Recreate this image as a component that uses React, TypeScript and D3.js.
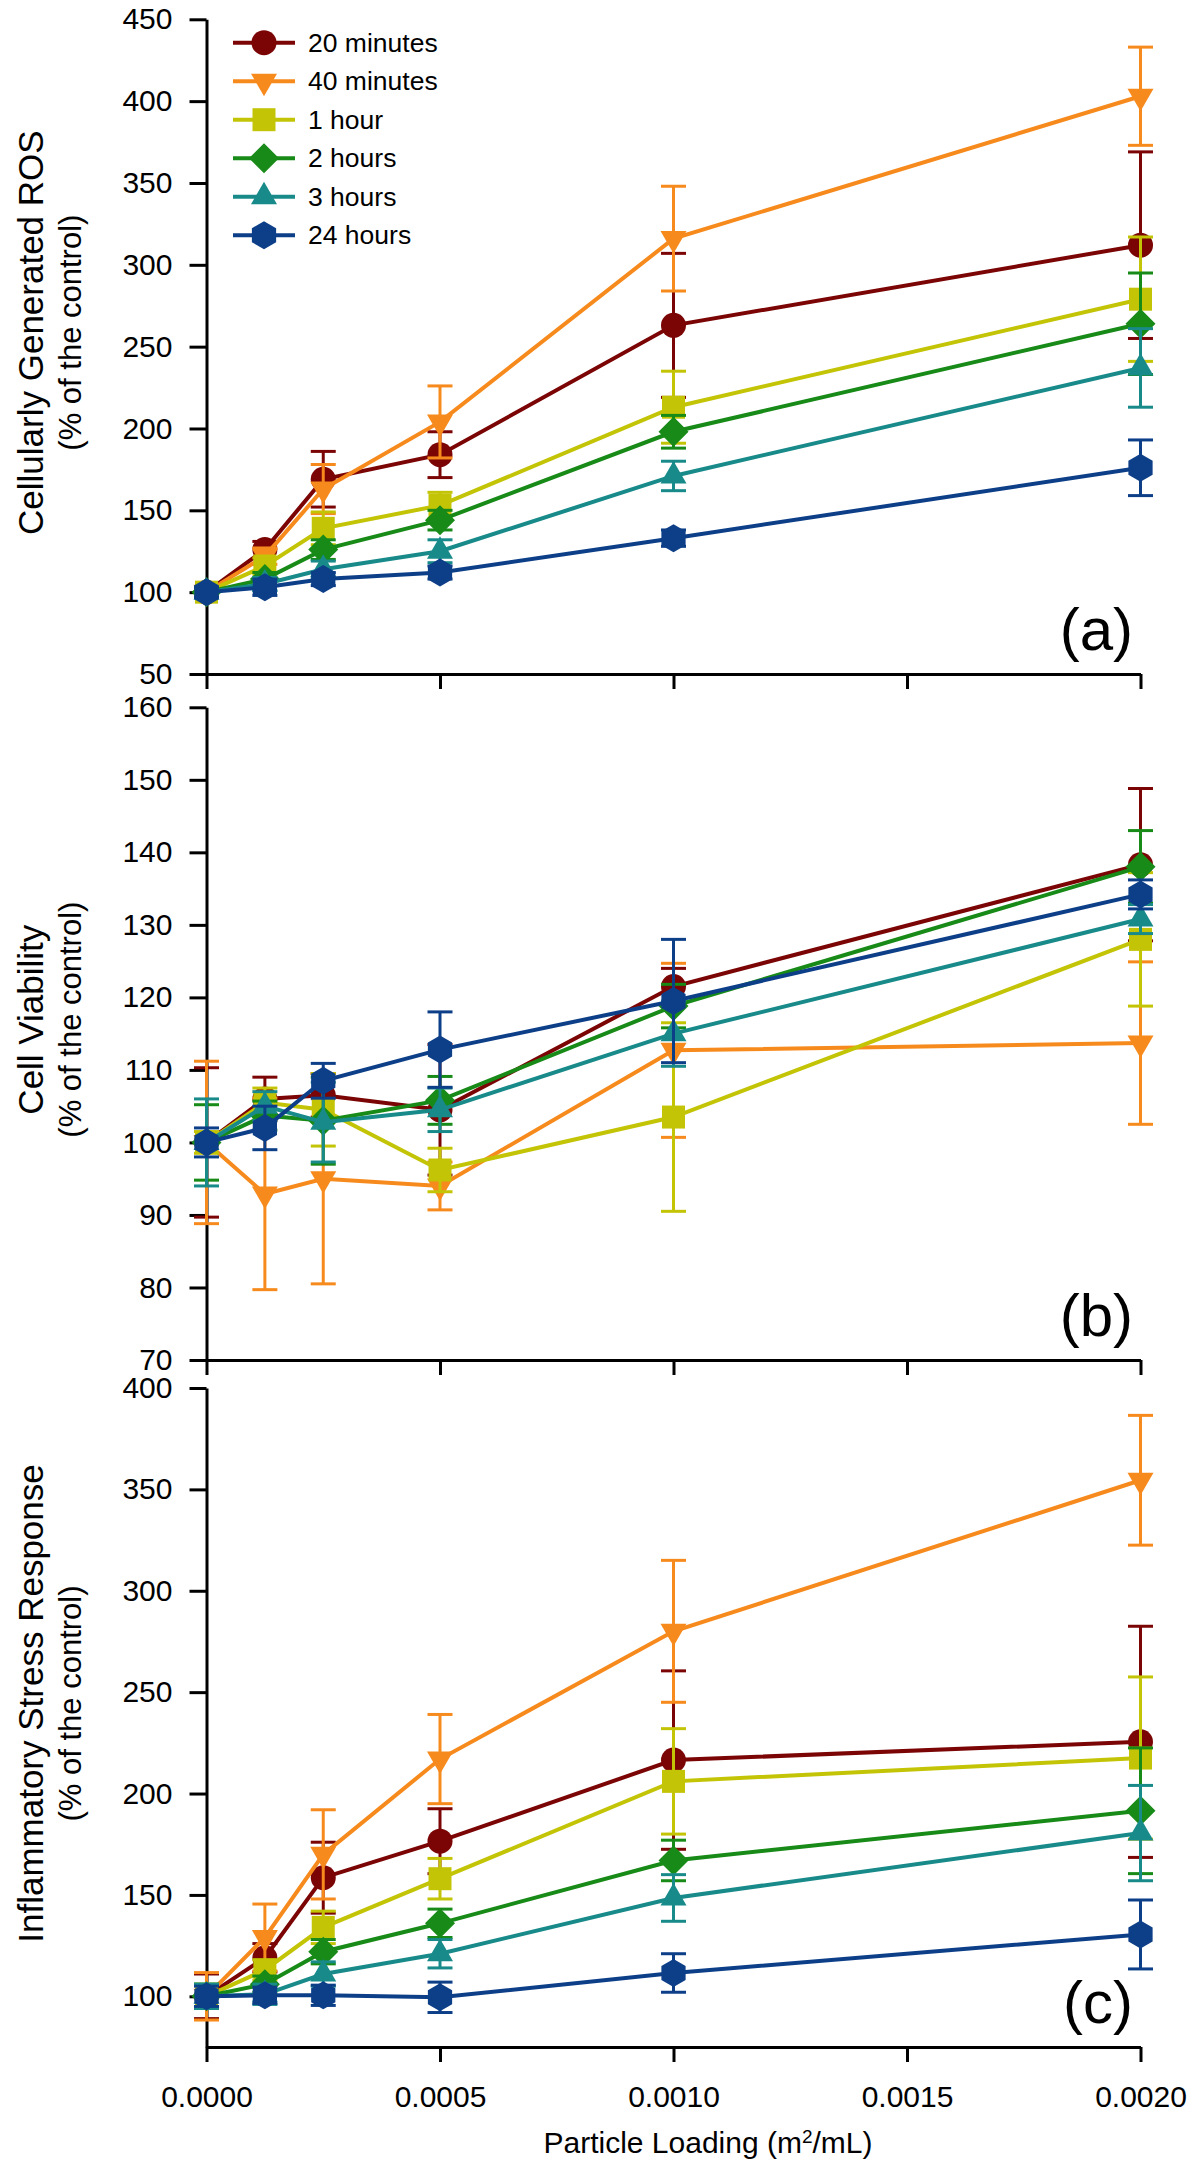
import React, { useEffect, useRef } from "react";
import * as d3 from "d3";

// particle loading (m2/mL) at which each time point was measured
const loading = [0, 0.000125, 0.00025, 0.0005, 0.001, 0.002];
const xTicks = [0, 0.0005, 0.001, 0.0015, 0.002];

const seriesNames = ["20 minutes", "40 minutes", "1 hour", "2 hours", "3 hours", "24 hours"];
const seriesColors = ["#7b0505", "#f78a1d", "#c3c406", "#178a17", "#198a8a", "#0d3f88"];
const seriesShapes = ["circle", "triangleDown", "square", "diamond", "triangleUp", "hexagon"];

// (a) cellularly generated ROS
const rosMean = [
  [100, 126, 169, 184, 263, 312],
  [100, 122, 163, 204, 316, 403],
  [100, 116, 139, 153, 213, 279],
  [100, 108, 126, 144, 198, 264],
  [100, 105, 114, 125, 171, 237],
  [100, 103, 108, 112, 133, 176],
];
const rosErr = [
  [3, 5, 17, 14, 44, 57],
  [3, 5, 15, 22, 32, 30],
  [3, 5, 10, 8, 22, 38],
  [3, 4, 6, 6, 10, 31],
  [3, 4, 5, 7, 9, 24],
  [3, 5, 4, 4, 5, 17],
];
const rosTicks = [50, 100, 150, 200, 250, 300, 350, 400, 450];

// (b) cell viability
const viabilityMean = [
  [100, 106, 106.5, 104.5, 121.5, 138.3],
  [100, 92.9, 95, 94, 112.7, 113.7],
  [100, 105.5, 104.5, 96.2, 103.5, 128],
  [100, 103.7, 103, 105.8, 118.8, 138],
  [100, 105, 102.8, 104.5, 115, 130.8],
  [100, 102, 108.5, 112.8, 119.5, 134.2],
];
const viabilityErr = [
  [10.3, 3, 3, 9, 2.5, 10.5],
  [11.2, 13.2, 14.5, 3.3, 12, 11.2],
  [1.5, 2, 5, 3, 13, 9.2],
  [5.2, 2, 6, 3.3, 3, 5],
  [6, 2, 5.5, 3, 4.5, 2],
  [2, 3, 2.4, 5.2, 8.5, 2],
];
const viabilityTicks = [70, 80, 90, 100, 110, 120, 130, 140, 150, 160];

// (c) inflammatory stress response
const stressMean = [
  [100, 119, 158.5, 176.5, 216.5, 225.5],
  [100, 129, 170, 217, 280, 354.5],
  [100, 113, 134, 158, 206, 217.5],
  [100, 106, 122, 136, 167, 191.5],
  [100, 101, 111, 121, 148.5, 180.5],
  [100, 100.5, 100.5, 99.5, 111.5, 130.5],
];
const stressErr = [
  [11, 7, 17.5, 16, 44, 57],
  [11.7, 16.5, 22, 22, 35, 32],
  [6, 5, 8, 10, 26, 40],
  [6, 4, 6, 7, 10, 31],
  [6, 5, 6, 7, 11.5, 23.5],
  [5, 4, 5, 7.5, 9.5, 17],
];
const stressTicks = [100, 150, 200, 250, 300, 350, 400];

const FONT = "'Liberation Sans', Arial, sans-serif";

function markerPath(shape: string): string {
  switch (shape) {
    case "circle":
      return d3.symbol(d3.symbolCircle, Math.PI * 12.5 * 12.5)() as string;
    case "triangleDown":
      return "M-13,-7.5L13,-7.5L0,15Z";
    case "triangleUp":
      return "M-13,7.5L13,7.5L0,-15Z";
    case "square":
      return "M-11.5,-11.5H11.5V11.5H-11.5Z";
    case "diamond":
      return "M0,-15L15,0L0,15L-15,0Z";
    default: {
      const pts = d3.range(6).map((i) => {
        const a = ((-90 + i * 60) * Math.PI) / 180;
        return [14 * Math.cos(a), 14 * Math.sin(a)];
      });
      return "M" + pts.map((p) => p.join(",")).join("L") + "Z";
    }
  }
}

export default function App() {
  const ref = useRef<SVGSVGElement>(null);

  useEffect(() => {
    const svg = d3.select(ref.current);
    svg.selectAll("*").remove();

    const x = d3.scaleLinear().domain([0, 0.002]).range([206.5, 1140.5]);

    const panels = [
      { top: 19.3, bottom: 674, domain: [50, 450], ticks: rosTicks, mean: rosMean, err: rosErr,
        title: "Cellularly Generated ROS", label: "(a)", xLabels: false },
      { top: 707.3, bottom: 1360, domain: [70, 160], ticks: viabilityTicks, mean: viabilityMean, err: viabilityErr,
        title: "Cell Viability", label: "(b)", xLabels: false },
      { top: 1388, bottom: 2047, domain: [75, 400], ticks: stressTicks, mean: stressMean, err: stressErr,
        title: "Inflammatory Stress Response", label: "(c)", xLabels: true },
    ];

    panels.forEach((p) => {
      const y = d3.scaleLinear().domain(p.domain).range([p.bottom, p.top]);
      const g = svg.append("g");

      // axes
      const yAxis = g.append("g")
        .attr("transform", `translate(${x(0)},0)`)
        .call(d3.axisLeft(y).tickValues(p.ticks).tickSize(17).tickSizeOuter(0).tickPadding(17));
      const xAxis = g.append("g")
        .attr("transform", `translate(0,${p.bottom})`)
        .call(d3.axisBottom(x).tickValues(xTicks).tickSize(15).tickSizeOuter(0).tickPadding(24)
          .tickFormat(p.xLabels ? (d3.format(".4f") as any) : () => ""));
      [yAxis, xAxis].forEach((a) => {
        a.selectAll("path,line").attr("stroke", "#000").attr("stroke-width", 3);
        a.selectAll("text").attr("font-family", FONT).attr("font-size", 30).attr("fill", "#000");
      });

      // y title, two lines
      const cy = (p.top + p.bottom) / 2 - 14;
      g.append("text")
        .attr("transform", `translate(43,${cy}) rotate(-90)`)
        .attr("text-anchor", "middle")
        .attr("font-family", FONT).attr("font-size", 35)
        .text(p.title);
      g.append("text")
        .attr("transform", `translate(81,${cy}) rotate(-90)`)
        .attr("text-anchor", "middle")
        .attr("font-family", FONT).attr("font-size", 31)
        .text("(% of the control)");

      // panel letter
      g.append("text")
        .attr("x", 1133).attr("y", p.bottom - 24)
        .attr("text-anchor", "end")
        .attr("font-family", FONT).attr("font-size", 60)
        .text(p.label);

      const line = d3.line<number>().x((d, i) => x(loading[i])).y((d) => y(d));

      seriesNames.forEach((name, s) => {
        const color = seriesColors[s];
        const sg = g.append("g");
        sg.append("path")
          .attr("d", line(p.mean[s]))
          .attr("fill", "none").attr("stroke", color).attr("stroke-width", 4);

        p.mean[s].forEach((m, i) => {
          const e = p.err[s][i];
          const cx = x(loading[i]);
          const eg = sg.append("g").attr("stroke", color).attr("stroke-width", 3);
          eg.append("line").attr("x1", cx).attr("x2", cx).attr("y1", y(m - e)).attr("y2", y(m + e));
          eg.append("line").attr("x1", cx - 12.5).attr("x2", cx + 12.5).attr("y1", y(m + e)).attr("y2", y(m + e));
          eg.append("line").attr("x1", cx - 12.5).attr("x2", cx + 12.5).attr("y1", y(m - e)).attr("y2", y(m - e));
        });

        sg.selectAll("path.marker")
          .data(p.mean[s])
          .enter()
          .append("path")
          .attr("class", "marker")
          .attr("d", markerPath(seriesShapes[s]))
          .attr("transform", (d, i) => `translate(${x(loading[i])},${y(d)})`)
          .attr("fill", color);
      });
    });

    // x title
    const xt = svg.append("text")
      .attr("x", 708).attr("y", 2153)
      .attr("text-anchor", "middle")
      .attr("font-family", FONT).attr("font-size", 30);
    xt.append("tspan").text("Particle Loading (m");
    xt.append("tspan").attr("baseline-shift", "super").attr("font-size", 19).text("2");
    xt.append("tspan").text("/mL)");

    // legend
    const legend = svg.append("g");
    seriesNames.forEach((name, s) => {
      const ly = 42.7 + s * 38.5;
      const color = seriesColors[s];
      legend.append("line").attr("x1", 233).attr("x2", 295).attr("y1", ly).attr("y2", ly)
        .attr("stroke", color).attr("stroke-width", 4);
      legend.append("path").attr("d", markerPath(seriesShapes[s]))
        .attr("transform", `translate(264,${ly})`).attr("fill", color);
      legend.append("text").attr("x", 308).attr("y", ly).attr("dy", "0.35em")
        .attr("font-family", FONT).attr("font-size", 26.5).text(name);
    });
  }, []);

  return (
    <svg
      ref={ref}
      width={1200}
      height={2171}
      style={{ position: "absolute", left: 0, top: 0, background: "#fff" }}
    />
  );
}
